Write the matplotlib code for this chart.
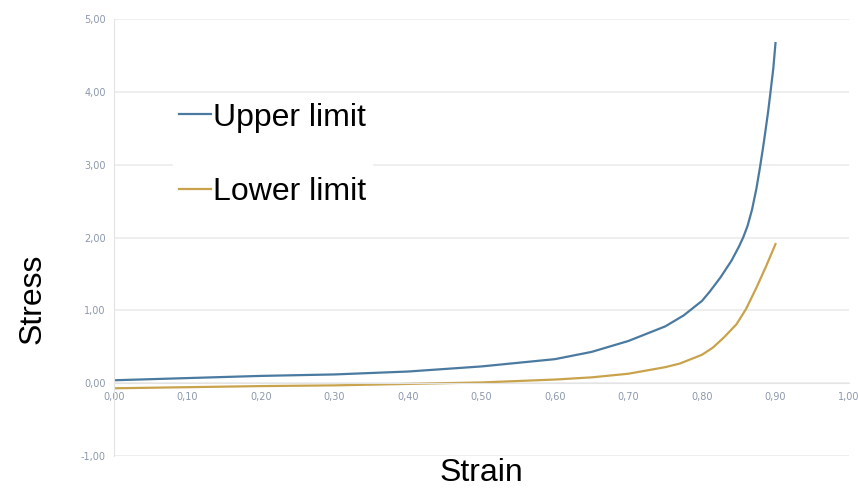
import numpy as np
import matplotlib.pyplot as plt
from matplotlib.ticker import FuncFormatter

plt.rcParams["font.family"] = ["Liberation Sans", "DejaVu Sans"]

# values
strain_upper = [0.00, 0.10, 0.20, 0.30, 0.40, 0.50, 0.60, 0.65, 0.70, 0.75,
                0.775, 0.80, 0.81, 0.825, 0.84, 0.85, 0.856, 0.862, 0.868,
                0.874, 0.879, 0.883, 0.886, 0.89, 0.893, 0.897, 0.90]
stress_upper = [0.04, 0.07, 0.10, 0.12, 0.16, 0.23, 0.33, 0.43, 0.58, 0.78,
                0.93, 1.13, 1.25, 1.45, 1.68, 1.87, 2.00, 2.16, 2.38,
                2.67, 2.97, 3.23, 3.44, 3.73, 3.98, 4.32, 4.67]

strain_lower = [0.00, 0.10, 0.20, 0.30, 0.40, 0.50, 0.60, 0.65, 0.70, 0.75,
                0.77, 0.78, 0.80, 0.815, 0.83, 0.847, 0.86, 0.874, 0.887, 0.90]
stress_lower = [-0.07, -0.055, -0.04, -0.03, -0.01, 0.01, 0.05, 0.08, 0.13, 0.22,
                0.27, 0.31, 0.39, 0.49, 0.63, 0.81, 1.02, 1.31, 1.60, 1.91]

x_ticks = np.arange(0, 1.01, 0.1)
y_ticks = np.arange(-1, 5.01, 1)

fig = plt.figure(figsize=(8.58, 4.94), dpi=100)
ax = fig.add_axes([0.1329, 0.0769, 0.8566, 0.8846])

ax.plot(strain_upper, stress_upper, color="#4b7aa0", lw=1.6,
        solid_joinstyle="round", label="Upper limit")
ax.plot(strain_lower, stress_lower, color="#c9a34c", lw=1.6,
        solid_joinstyle="round", label="Lower limit")

ax.set_xlim(0, 1.0)
ax.set_ylim(-1, 5)
ax.set_xticks(x_ticks)
ax.set_yticks(y_ticks)

comma = FuncFormatter(lambda v, p: f"{v:.2f}".replace(".", ","))
ax.xaxis.set_major_formatter(comma)
ax.yaxis.set_major_formatter(comma)

ax.grid(axis="y", color="#ebebeb", lw=1.2)
ax.set_axisbelow(True)
for s in ("top", "right"):
    ax.spines[s].set_visible(False)
ax.spines["bottom"].set_position(("data", 0))
ax.spines["bottom"].set_color("#e3e3e3")
ax.spines["left"].set_color("#e3e3e3")
ax.tick_params(length=0, labelsize=7, labelcolor="#8c98ab", pad=6)
for lab in ax.get_xticklabels() + ax.get_yticklabels():
    lab.set_family(["Liberation Sans Narrow", "DejaVu Sans"])

ax.set_xlabel("Strain", fontsize=23)
ax.xaxis.set_label_coords(0.5, -0.005)
ax.set_ylabel("Stress", fontsize=23)
ax.yaxis.set_label_coords(-0.091, 0.36)

leg = ax.legend(loc="upper left", bbox_to_anchor=(0.058, 0.86), fontsize=23,
                frameon=True, framealpha=1, edgecolor="white",
                handlelength=1.0, handletextpad=0.05, labelspacing=1.4,
                borderpad=0.2, fancybox=False)

fig.savefig("out.png", dpi=100)
